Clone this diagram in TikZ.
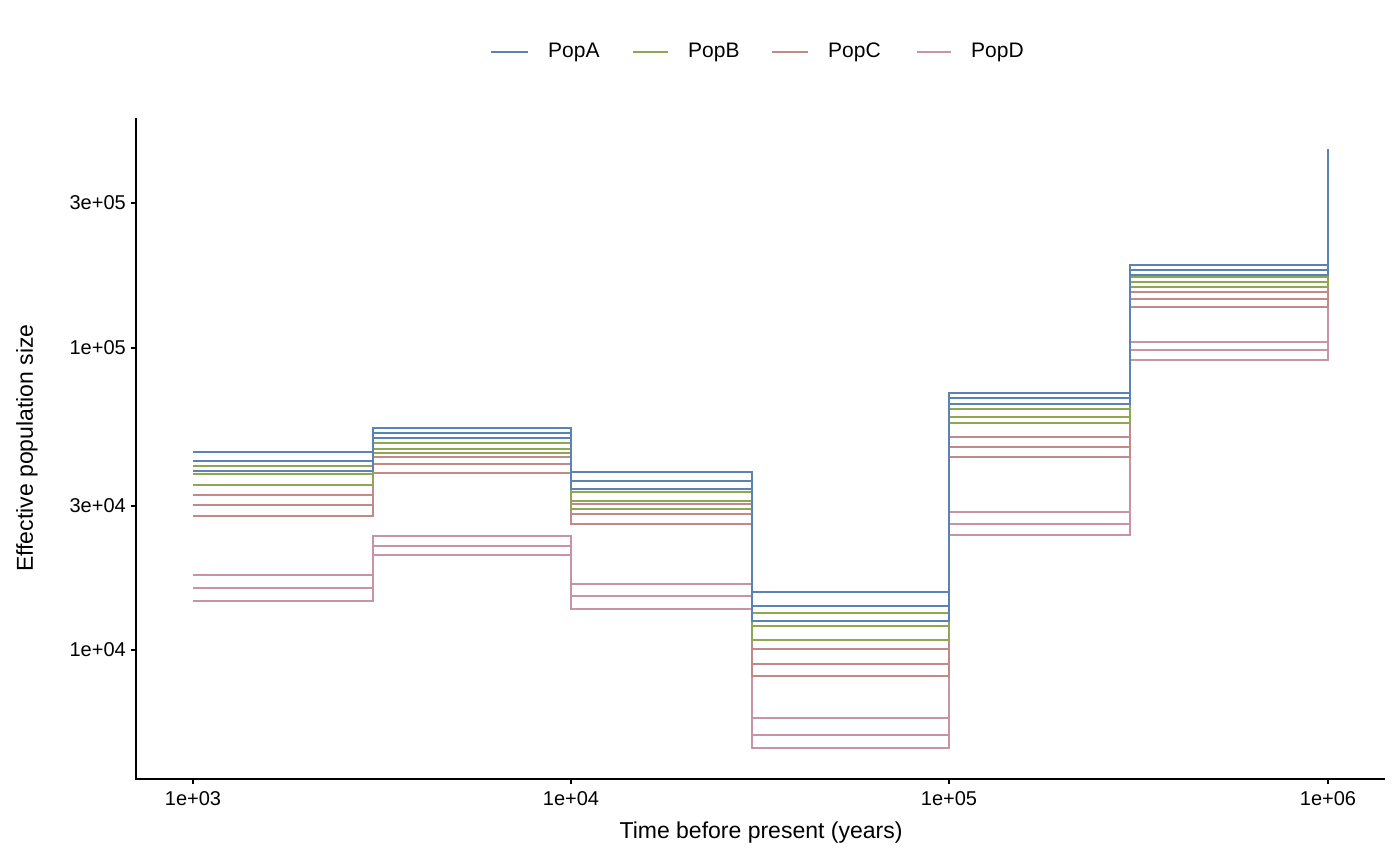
\documentclass[tikz,border=0pt]{standalone}
\usepackage{fontspec}
\setmainfont{Liberation Sans}
\definecolor{ca}{HTML}{5B82B5}
\definecolor{cb}{HTML}{8FA653}
\definecolor{cc}{HTML}{C08A89}
\definecolor{cd}{HTML}{C794A4}
\begin{document}
\begin{tikzpicture}[x=1pt,y=-1pt,
  stp/.style={line width=2.2pt,line join=miter},
  axl/.style={line width=1.1pt,black},
  tick/.style={font=\fontsize{20}{24}\selectfont,inner sep=0pt},
  ttl/.style={font=\fontsize{23}{27}\selectfont,inner sep=0pt},
  leg/.style={font=\fontsize{21}{25}\selectfont,inner sep=0pt,anchor=west}]
\useasboundingbox (0,0) rectangle (1400,865);
\newcommand{\stepline}[8]{\draw[stp,#1] (193,#2) -- (373,#2) -- (373,#3) -- (571,#3) -- (571,#4) -- (752,#4) -- (752,#5) -- (949,#5) -- (949,#6) -- (1130,#6) -- (1130,#7) -- (1328,#7) -- (1328,#8);}
% PopD
\stepline{cd}{575}{536}{584}{718}{512}{342}{185}
\stepline{cd}{588}{546}{596}{735}{524}{350}{185}
\stepline{cd}{601}{555}{609}{748}{535}{360}{185}
% PopC
\stepline{cc}{495}{457}{504}{649}{437}{292}{180}
\stepline{cc}{505}{464}{514}{664}{447}{299}{180}
\stepline{cc}{516}{473}{524}{676}{457}{307}{180}
% PopB
\stepline{cb}{466}{443}{492}{613}{409}{277}{162}
\stepline{cb}{474}{449}{501}{626}{417}{282}{162}
\stepline{cb}{485}{453}{509}{640}{423}{287}{162}
% PopA
\stepline{ca}{452}{428}{472}{592}{393}{265}{149}
\stepline{ca}{461}{433}{481}{606}{398}{270}{149}
\stepline{ca}{471}{438}{489}{621}{404}{275}{149}
% axes
\coordinate (o) at (136,779);
\draw[axl] (136,118) -- (o) -- (1385,779);
\foreach \y/\t in {203/3e+05,348/1e+05,506/3e+04,650/1e+04}{
  \draw[axl] (131,\y) -- (136,\y);
  \node[tick,anchor=east] (yl\y) at (126,\y) {\t};}
\foreach \x/\t in {193/1e+03,571/1e+04,949/1e+05,1328/1e+06}{
  \draw[axl] (\x,779) -- (\x,784);
  \node[tick,anchor=north] (xl\x) at (\x,791) {\t};}
\node[ttl] (xt) at (761,833) {Time before present (years)};
\node[ttl,rotate=90] (yt) at (27,448) {Effective population size};
% legend
\foreach \a/\b/\c/\t in {491/528/ca/PopA,633/668/cb/PopB,772/808/cc/PopC,917/951/cd/PopD}{
  \draw[stp,\c] (\a,52) -- (\b,52);
  \node[leg] (lg\t) at (\b+20,52) {\t};}
\end{tikzpicture}
\end{document}
